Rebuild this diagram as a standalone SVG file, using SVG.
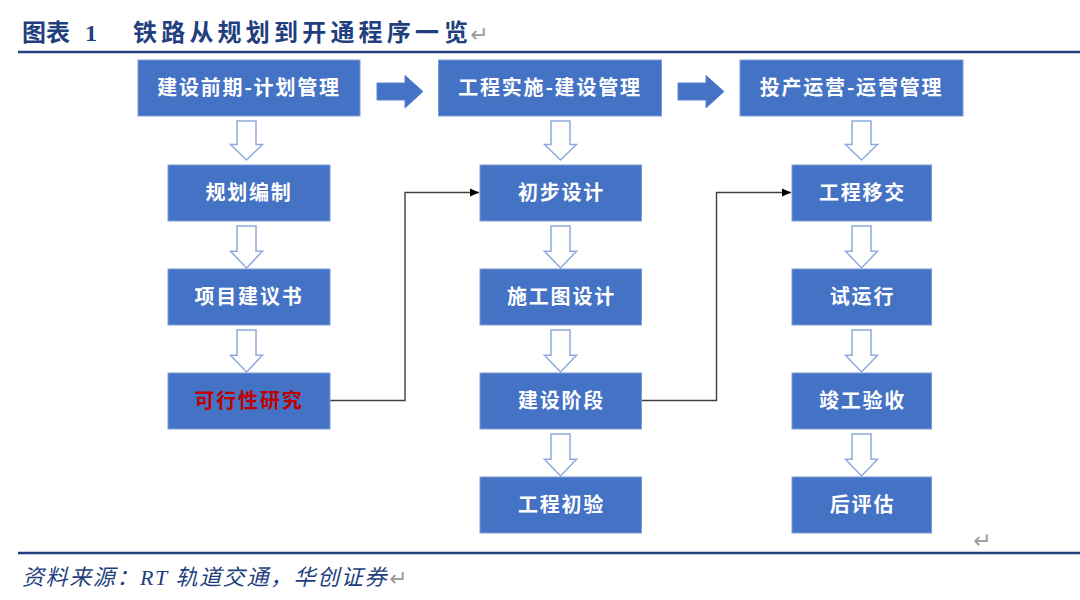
<svg xmlns="http://www.w3.org/2000/svg" width="1080" height="600" viewBox="0 0 1080 600">
<defs>
<style>
.box{fill:#4472C4;stroke:#7C9CD6;stroke-width:1}
.lbl{font-family:"Noto Sans CJK SC","Noto Sans",sans-serif;font-size:20px;font-weight:bold;fill:#FFFFFF;text-anchor:middle;letter-spacing:1.8px}
.red{fill:#C00000}
.hollow{fill:#FFFFFF;stroke:#8EAADC;stroke-width:1.5;stroke-linejoin:miter}
.block{fill:#4472C4;stroke:#5B84CC;stroke-width:1}
.conn{fill:none;stroke:#404040;stroke-width:1.4}
.title{font-family:"Liberation Serif","Noto Sans CJK SC",serif;font-size:24px;font-weight:bold;fill:#1F3F7F}
.src{font-family:"Liberation Serif","Noto Sans CJK SC",serif;font-size:22px;font-style:italic;fill:#1F3F7F;letter-spacing:1.6px}
.ret{font-family:"DejaVu Sans",sans-serif;font-size:22px;fill:#9A9A9A}
.rule{stroke:#1F3F7F;stroke-width:2.5}
</style>
<marker id="ah" markerWidth="10" markerHeight="10" refX="9" refY="5" orient="auto" markerUnits="userSpaceOnUse">
<path d="M0,1 L9,5 L0,9 Z" fill="#000000"/>
</marker>
<path id="harrow" d="M-9.5,0 H9.5 V24 H16 L0,40 L-16,24 H-9.5 Z"/>
</defs>

<g id="header">
<text class="title" x="22" y="41">图表 <tspan x="85">1</tspan></text>
<text class="title" x="133" y="41" letter-spacing="4.2">铁路从规划到开通程序一</text>
<text class="title" x="444" y="41">览</text>
<text class="ret" x="470" y="42">↵</text>
<line class="rule" x1="18" y1="52" x2="1080" y2="52"/>
</g>

<g id="connectors">
<g id="block-arrows">
<path class="block" d="M377,83 H405 V75.5 L423,91.5 L405,108 V100 H377 Z"/>
<path class="block" d="M678,83 H706 V75.5 L724,91.5 L706,108 V100 H678 Z"/>
</g>
<g id="hollow-arrows">
<use href="#harrow" class="hollow" transform="translate(246.5,121) scale(1,0.975)"/>
<use href="#harrow" class="hollow" transform="translate(246.5,226) scale(1,1.05)"/>
<use href="#harrow" class="hollow" transform="translate(246.5,330) scale(1,1.05)"/>
<use href="#harrow" class="hollow" transform="translate(560.5,121) scale(1,0.975)"/>
<use href="#harrow" class="hollow" transform="translate(560.5,226) scale(1,1.05)"/>
<use href="#harrow" class="hollow" transform="translate(560.5,330) scale(1,1.05)"/>
<use href="#harrow" class="hollow" transform="translate(560.5,434) scale(1,1.05)"/>
<use href="#harrow" class="hollow" transform="translate(861.5,121) scale(1,0.975)"/>
<use href="#harrow" class="hollow" transform="translate(861.5,226) scale(1,1.05)"/>
<use href="#harrow" class="hollow" transform="translate(861.5,330) scale(1,1.05)"/>
<use href="#harrow" class="hollow" transform="translate(861.5,434) scale(1,1.05)"/>
</g>
<path class="conn" d="M330,400.5 H405 V192.5 H479" marker-end="url(#ah)"/>
<path class="conn" d="M642,400.5 H716.5 V192.5 H791" marker-end="url(#ah)"/>
</g>

<g id="n-plan">
<rect class="box" x="138" y="60" width="222" height="56"/>
<text class="lbl" x="249" y="95">建设前期-计划管理</text>
</g>
<g id="n-build">
<rect class="box" x="438.5" y="60" width="223" height="56"/>
<text class="lbl" x="550" y="95">工程实施-建设管理</text>
</g>
<g id="n-operate">
<rect class="box" x="740" y="60" width="223" height="56"/>
<text class="lbl" x="851.5" y="95">投产运营-运营管理</text>
</g>

<g id="n-guihua">
<rect class="box" x="168" y="165" width="162" height="56"/>
<text class="lbl" x="249" y="200">规划编制</text>
</g>
<g id="n-xiangmu">
<rect class="box" x="168" y="269" width="162" height="56"/>
<text class="lbl" x="249" y="304">项目建议书</text>
</g>
<g id="n-kexing">
<rect class="box" x="168" y="373" width="162" height="56"/>
<text class="lbl red" x="249" y="408">可行性研究</text>
</g>

<g id="n-chubu">
<rect class="box" x="480" y="165" width="161.5" height="56"/>
<text class="lbl" x="561.5" y="200">初步设计</text>
</g>
<g id="n-shigongtu">
<rect class="box" x="480" y="269" width="161.5" height="56"/>
<text class="lbl" x="561.5" y="304">施工图设计</text>
</g>
<g id="n-jianshe">
<rect class="box" x="480" y="373" width="161.5" height="56"/>
<text class="lbl" x="561.5" y="408">建设阶段</text>
</g>
<g id="n-chuyan">
<rect class="box" x="480" y="477" width="161.5" height="56"/>
<text class="lbl" x="561.5" y="512">工程初验</text>
</g>

<g id="n-yijiao">
<rect class="box" x="792" y="165" width="139.5" height="56"/>
<text class="lbl" x="862.5" y="200">工程移交</text>
</g>
<g id="n-shiyunxing">
<rect class="box" x="792" y="269" width="139.5" height="56"/>
<text class="lbl" x="862.5" y="304">试运行</text>
</g>
<g id="n-jungong">
<rect class="box" x="792" y="373" width="139.5" height="56"/>
<text class="lbl" x="862.5" y="408">竣工验收</text>
</g>
<g id="n-houpinggu">
<rect class="box" x="792" y="477" width="139.5" height="56"/>
<text class="lbl" x="862.5" y="512">后评估</text>
</g>

<g id="footer">
<text class="ret" x="973" y="548">↵</text>
<line class="rule" x1="18" y1="553" x2="1080" y2="553"/>
<text class="src" x="22" y="585">资料来源：RT 轨道交通，华创证券</text>
<text class="ret" x="389" y="586">↵</text>
</g>
</svg>
